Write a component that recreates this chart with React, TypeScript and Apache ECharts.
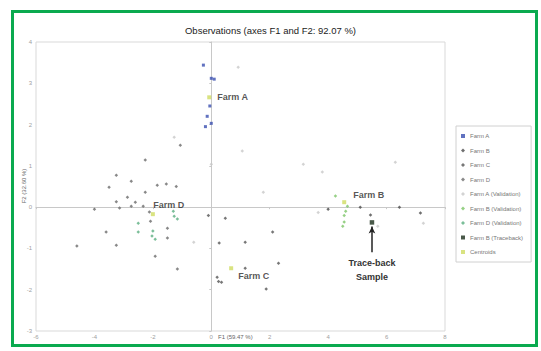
import React, { useEffect, useRef } from "react";
import * as echarts from "echarts";

const titleText = "Observations (axes F1 and F2: 92.07 %)";
const xName = "F1 (59.47 %)";
const yName = "F2 (32.60 %)";
const xRange = [-6, 8, 2];
const yRange = [-3, 4, 1];

const farmA = [[-0.27, 3.44], [0.0, 3.12], [0.1, 3.1], [-0.05, 2.45], [-0.14, 2.2], [0.0, 2.03], [-0.2, 1.95]];
const farmB = [[5.1, 0.0], [5.45, -0.19], [6.44, 0.0], [7.16, -0.14], [4.0, -0.05]];
const farmC = [[0.2, -1.7], [0.25, -1.8], [0.35, -1.82], [1.16, -1.48], [2.3, -1.36], [1.88, -1.98], [2.1, -0.6], [1.16, -0.85], [0.27, -0.87], [0.48, -0.27], [-0.1, -0.2]];
const farmD = [
  [-1.06, 1.5], [-2.26, 1.14], [-3.25, 0.77], [-2.74, 0.63], [-3.5, 0.48], [-1.85, 0.53], [-1.54, 0.56],
  [-2.26, 0.36], [-2.87, 0.24], [-2.6, 0.12], [-3.14, -0.02], [-2.74, 0.02], [-2.33, 0.02], [-2.12, -0.12],
  [-3.6, -0.6], [-4.6, -0.94], [-3.25, -0.92], [-2.08, -0.34], [-1.92, -1.19], [-1.16, -1.5],
  [-1.5, -0.51], [-1.5, -0.75], [-3.25, 0.13], [-4.0, -0.05], [-1.2, 0.5]
];
const farmAVal = [[1.06, 1.36], [3.15, 1.04], [3.8, 0.85], [6.3, 1.09], [1.78, 0.36], [3.66, -0.13], [5.7, -0.46], [7.26, -0.39], [-1.27, 1.69], [0.92, 3.39], [0.0, 1.04], [-0.6, -0.85]];
const farmBVal = [[4.25, 0.27], [4.66, 0.02], [4.6, -0.1], [4.55, -0.2], [4.55, -0.36], [4.5, -0.46]];
const farmDVal = [[-1.3, -0.1], [-1.27, -0.22], [-1.16, -0.29], [-2.0, -0.58], [-2.03, -0.7], [-1.92, -0.78], [-2.5, -0.39], [-2.5, -0.6]];
const traceback = [[5.5, -0.37]];
const centroids = [
  { name: "Farm A", value: [-0.07, 2.66] },
  { name: "Farm B", value: [4.55, 0.12] },
  { name: "Farm C", value: [0.68, -1.48] },
  { name: "Farm D", value: [-2.0, -0.17] }
];
const legendNames = ["Farm A", "Farm B", "Farm C", "Farm D", "Farm A (Validation)", "Farm B (Validation)", "Farm D (Validation)", "Farm B (Traceback)", "Centroids"];
const annotationText = "Trace-back\nSample";

const labelPlacement: Record<string, any> = {
  "Farm A": { position: "right", offset: [1, 0] },
  "Farm B": { position: "right", offset: [2, -7] },
  "Farm C": { position: "right", offset: [0, 8] },
  "Farm D": { position: "top", offset: [16, 2] }
};

export default function App() {
  const ref = useRef<HTMLDivElement>(null);
  useEffect(() => {
    const chart = echarts.init(ref.current!, null, { renderer: "svg" });
    const font = "'Liberation Sans', Arial, sans-serif";
    const pt = (name: string, data: number[][], color: string, symbol: string, size: number, extra: any = {}) => ({
      name, type: "scatter", data, symbol, symbolSize: size,
      itemStyle: { color }, ...extra
    });
    const tb = traceback[0];
    chart.setOption({
      animation: false,
      textStyle: { fontFamily: font },
      title: {
        text: titleText, left: "center", top: 20,
        textStyle: { fontSize: 9.5, fontWeight: "normal", color: "#222", fontFamily: font }
      },
      grid: { left: 36, right: 96, top: 42, bottom: 20, show: true, borderColor: "#d9d9d9", borderWidth: 1 },
      legend: {
        orient: "vertical", left: 456, top: 126, data: legendNames,
        itemWidth: 4, itemHeight: 4, itemGap: 6.5,
        padding: [6, 8, 6, 5],
        borderColor: "#d0d0d0", borderWidth: 1,
        textStyle: { fontSize: 6, color: "#777", lineHeight: 8, fontFamily: font }
      },
      xAxis: {
        type: "value", min: xRange[0], max: xRange[1], interval: xRange[2],
        axisLine: { onZero: true, lineStyle: { color: "#c8c8c8" } },
        axisTick: { show: true, length: 2, inside: false, lineStyle: { color: "#c8c8c8" } },
        axisLabel: { fontSize: 6, color: "#a0a0a0", margin: 3 },
        splitLine: { show: false }
      },
      yAxis: {
        type: "value", min: yRange[0], max: yRange[1], interval: yRange[2],
        axisLine: { onZero: true, lineStyle: { color: "#c8c8c8" } },
        axisTick: { show: true, length: 2, lineStyle: { color: "#c8c8c8" } },
        axisLabel: { fontSize: 6, color: "#a0a0a0", margin: 4 },
        splitLine: { show: false }
      },
      graphic: [
        { type: "text", left: 218, top: 334, style: { text: xName, fontSize: 6, fill: "#666", fontFamily: font } },
        { type: "text", x: 24, y: 186, rotation: Math.PI / 2, style: { text: yName, fontSize: 6, fill: "#666", fontFamily: font, textAlign: "center", textVerticalAlign: "middle" } }
      ],
      series: [
        pt("Farm A", farmA, "#3a4fb0", "rect", 3),
        pt("Farm B", farmB, "#4a4a4a", "diamond", 3.5),
        pt("Farm C", farmC, "#555555", "diamond", 3.5),
        pt("Farm D", farmD, "#6a6a6a", "diamond", 3.5),
        pt("Farm A (Validation)", farmAVal, "#c8c8c8", "diamond", 3.5),
        pt("Farm B (Validation)", farmBVal, "#7cc466", "diamond", 3.5),
        pt("Farm D (Validation)", farmDVal, "#5aae80", "diamond", 3.5),
        pt("Farm B (Traceback)", traceback, "#1b2f1b", "rect", 4.5, {
          markLine: {
            silent: true, symbol: ["none", "arrow"], symbolSize: [5, 7],
            lineStyle: { color: "#222", width: 1.5, type: "solid" },
            label: {
              show: true, position: "start", formatter: annotationText, distance: 4,
              fontSize: 9, fontWeight: "bold", color: "#333", lineHeight: 14, fontFamily: font
            },
            data: [[{ coord: [tb[0], tb[1] - 0.72] }, { coord: [tb[0], tb[1] - 0.1] }]]
          }
        }),
        {
          name: "Centroids", type: "scatter", symbol: "rect", symbolSize: 4,
          itemStyle: { color: "#cfdc62" },
          data: centroids.map((c) => ({
            name: c.name, value: c.value,
            label: {
              show: true, formatter: "{b}", fontSize: 9, fontWeight: "bold", color: "#2a2a2a",
              fontFamily: font, ...labelPlacement[c.name]
            }
          }))
        }
      ]
    });
    return () => chart.dispose();
  }, []);
  return (
    <div style={{ position: "absolute", left: 0, top: 0, width: 541, height: 351, background: "#fff" }}>
      <div style={{ position: "absolute", left: 11, top: 10, width: 521, height: 331, border: "3px solid #0aaa4f" }} />
      <div ref={ref} style={{ position: "absolute", left: 0, top: 0, width: 541, height: 351 }} />
    </div>
  );
}
